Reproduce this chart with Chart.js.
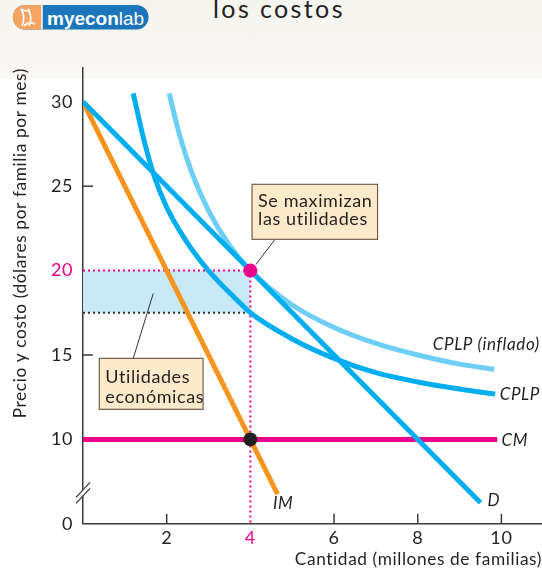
<!DOCTYPE html>
<html><head><meta charset="utf-8">
<script src="https://cdn.jsdelivr.net/npm/chart.js@4"></script>
<style>
html,body{margin:0;padding:0;background:#fff;}
#wrap{position:relative;width:542px;height:568px;overflow:hidden;background:linear-gradient(#f5f4ef 0px,#f9f8f4 78px,#ffffff 79px);}
#c{position:absolute;left:0;top:0;}
#title{position:absolute;left:213px;top:-7px;font:25px Lato,"Open Sans",sans-serif;letter-spacing:2.4px;color:#231f20;white-space:nowrap;}
#logo{position:absolute;left:0;top:0;}
</style></head>
<body><div id="wrap">
<svg id="logo" width="160" height="34" xmlns="http://www.w3.org/2000/svg">
 <rect x="13" y="5" width="135.5" height="24.5" rx="12" fill="#1b75bb"/>
 <path d="M25 5 H42 V29.5 H25 A12.25 12.25 0 0 1 25 5 Z" fill="#f6a461"/>
 <line x1="42" y1="5" x2="42" y2="29.5" stroke="#ffffff" stroke-width="1.5"/>
 <path d="M21 9 Q26 17 22 26 M21 9 Q25 12 30 10 M28 9 Q33 17 29 26 M24 26 Q28 21 35 24" stroke="#ffffff" stroke-width="1.6" fill="none"/>
 <text x="47" y="24.5" font-family="'Liberation Sans',Arial,sans-serif" font-size="19" font-weight="bold" fill="#ffffff">myecon<tspan font-weight="normal">lab</tspan></text>
</svg>
<div id="title">los costos</div>
<canvas id="c" width="542" height="568"></canvas>
</div>
<script>
// ---- data ----
const dQ = [0, 9.5];
const dP = [30, 6.25];
const imQ = [0, 4.65];
const imP = [30, 6.75];
const cmQ = [0, 9.9];
const cmP = [10, 10];
const cplpQ = [1.2, 1.45, 1.7, 2.0, 2.4, 2.8, 3.2, 3.6, 4.0, 5.0, 6.0, 7.0, 8.0, 9.0, 9.85];
const cplpP = [30.5, 27.8, 25.6, 23.75, 22.0, 20.6, 19.45, 18.45, 17.5, 15.95, 14.8, 13.95, 13.4, 12.98, 12.68];
const infQ = [2.06, 2.3, 2.6, 3.0, 3.5, 4.0, 5.0, 6.0, 7.0, 8.0, 9.0, 9.83];
const infP = [30.5, 28.1, 25.8, 23.55, 21.5, 20.0, 17.96, 16.63, 15.69, 15.0, 14.46, 14.15];
const optQ = [4];
const optP = [20];
const mcQ = [4];
const mcP = [10];
const atcAtOpt = 17.5;
const profitQ = [0, 4];
const xTickValues = [2, 4, 6, 8, 10];
const yTickValues = [5, 10, 15, 20, 25, 30];
const yTickLabels = ['0', '10', '15', '20', '25', '30'];
const xTickMarks = [2, 6, 8, 10];
const yTickMarks = [10, 15, 25];
const curveLabels = [
  {text: 'CPLP (inflado)', q: 8.36, p: 15.6},
  {text: 'CPLP', q: 9.96, p: 12.68},
  {text: 'CM', q: 10.0, p: 9.96},
  {text: 'D', q: 9.67, p: 6.4},
  {text: 'IM', q: 4.54, p: 6.22}
];
const boxes = [
  {lines: ['Se maximizan', 'las utilidades'], q0: 4.04, p0: 25.11, q1: 7.04, p1: 21.85, lq0: 4.59, lp0: 21.85, lq1: 4.13, lp1: 20.35},
  {lines: ['Utilidades', 'económicas'], q0: 0.39, p0: 14.8, q1: 2.87, p1: 11.78, lq0: 1.2, lp0: 14.8, lq1: 1.68, lp1: 18.65}
];

// ---- styles ----
const FONT = 'Lato, "Open Sans", sans-serif';
const magenta = '#ec008c', cyan = '#00aeef', lightCyan = '#6dcff6', orange = '#f7941d';
const ink = '#231f20', axisCol = '#3a3a3a';
const pts = (xs, ys) => xs.map((x, i) => ({x: x, y: ys[i]}));

const decor = {
  id: 'decor',
  beforeDraw(chart) { chart.ctx.letterSpacing = '0.6px'; },
  beforeDatasetsDraw(chart) {
    const {ctx, scales: {x, y}, chartArea: a} = chart;
    ctx.save();
    ctx.strokeStyle = axisCol; ctx.lineWidth = 1.5;
    xTickMarks.forEach(v => { const px = x.getPixelForValue(v); ctx.beginPath(); ctx.moveTo(px, a.bottom); ctx.lineTo(px, a.bottom - 10); ctx.stroke(); });
    yTickMarks.forEach(v => { const py = y.getPixelForValue(v); ctx.beginPath(); ctx.moveTo(a.left, py); ctx.lineTo(a.left + 10, py); ctx.stroke(); });
    ctx.restore();
  },
  afterDatasetsDraw(chart) {
    const {ctx, scales: {x, y}, chartArea: a} = chart;
    ctx.save();
    ctx.letterSpacing = '0.6px';
    // axis break
    const cy = y.getPixelForValue(6.8), cx = a.left;
    ctx.fillStyle = '#ffffff';
    ctx.beginPath();
    ctx.moveTo(cx - 6, cy + 3); ctx.lineTo(cx + 6, cy - 10); ctx.lineTo(cx + 6, cy - 4); ctx.lineTo(cx - 6, cy + 9); ctx.closePath(); ctx.fill();
    ctx.strokeStyle = axisCol; ctx.lineWidth = 1.3;
    ctx.beginPath(); ctx.moveTo(cx - 7, cy + 4); ctx.lineTo(cx + 7, cy - 11); ctx.stroke();
    ctx.beginPath(); ctx.moveTo(cx - 7, cy + 10); ctx.lineTo(cx + 7, cy - 5); ctx.stroke();
    // curve labels
    ctx.fillStyle = ink;
    ctx.font = 'italic 17px ' + FONT;
    ctx.textAlign = 'left'; ctx.textBaseline = 'middle';
    curveLabels.forEach(l => ctx.fillText(l.text, x.getPixelForValue(l.q), y.getPixelForValue(l.p)));
    // annotation boxes
    boxes.forEach((b, i) => {
      ctx.strokeStyle = '#333333'; ctx.lineWidth = 1;
      ctx.beginPath(); ctx.moveTo(x.getPixelForValue(b.lq0), y.getPixelForValue(b.lp0)); ctx.lineTo(x.getPixelForValue(b.lq1), y.getPixelForValue(b.lp1)); ctx.stroke();
      const x0 = x.getPixelForValue(b.q0), y0 = y.getPixelForValue(b.p0), x1 = x.getPixelForValue(b.q1), y1 = y.getPixelForValue(b.p1);
      ctx.fillStyle = '#fdeacb'; ctx.fillRect(x0, y0, x1 - x0, y1 - y0);
      ctx.strokeStyle = '#6e604e'; ctx.lineWidth = 1.2; ctx.strokeRect(x0, y0, x1 - x0, y1 - y0);
      ctx.fillStyle = ink; ctx.font = '18px ' + FONT; ctx.textBaseline = 'alphabetic';
      const lh = i === 0 ? 17.7 : 20;
      const base = i === 0 ? 23 : 25;
      b.lines.forEach((t, k) => ctx.fillText(t, x0 + 6, y0 + base + k * lh));
    });
    ctx.restore();
  }
};

const zeroPad = s => { s.paddingLeft = 0; s.paddingRight = 0; s.paddingTop = 0; s.paddingBottom = 0; };

new Chart(document.getElementById('c'), {
  type: 'line',
  data: {
    datasets: [
      {data: pts(optQ, optP), showLine: false, pointRadius: 7, pointBackgroundColor: magenta, pointBorderWidth: 0, order: 0},
      {data: pts(mcQ, mcP), showLine: false, pointRadius: 7, pointBackgroundColor: '#231f20', pointBorderWidth: 0, order: 0},
      {data: pts(dQ, dP), borderColor: cyan, borderWidth: 5, pointRadius: 0, order: 1},
      {data: pts(cplpQ, cplpP), borderColor: cyan, borderWidth: 5, pointRadius: 0, cubicInterpolationMode: 'monotone', order: 2},
      {data: pts(infQ, infP), borderColor: lightCyan, borderWidth: 5, pointRadius: 0, cubicInterpolationMode: 'monotone', order: 3},
      {data: pts(imQ, imP), borderColor: orange, borderWidth: 5, pointRadius: 0, order: 4},
      {data: pts(cmQ, cmP), borderColor: magenta, borderWidth: 5, pointRadius: 0, order: 5},
      {data: pts([optQ[0], optQ[0]], [optP[0], yTickValues[0]]), borderColor: magenta, borderWidth: 2, borderDash: [2, 3], pointRadius: 0, order: 6},
      {data: pts(profitQ, [optP[0], optP[0]]), borderColor: magenta, borderWidth: 2, borderDash: [2, 3], pointRadius: 0, order: 7},
      {data: pts(profitQ, [atcAtOpt, atcAtOpt]), borderColor: '#333333', borderWidth: 2, borderDash: [2, 3], pointRadius: 0, order: 8},
      {data: pts(profitQ, [optP[0], optP[0]]), borderWidth: 0, borderColor: 'rgba(0,0,0,0)', backgroundColor: '#c8e9f8', fill: {value: atcAtOpt}, pointRadius: 0, order: 10}
    ]
  },
  options: {
    responsive: false,
    animation: false,
    devicePixelRatio: 1,
    layout: {autoPadding: false, padding: {top: 68, left: 0, right: 0, bottom: 0}},
    plugins: {legend: {display: false}, tooltip: {enabled: false}},
    scales: {
      x: {
        type: 'linear', min: 0, max: 10.97,
        grid: {display: false, drawTicks: false},
        border: {color: axisCol, width: 1.5},
        afterBuildTicks: s => { s.ticks = xTickValues.map(v => ({value: v})); },
        afterFit: s => { s.height = 44.2; zeroPad(s); },
        ticks: {padding: 4, font: {family: FONT, size: 18}, color: c => c.tick && c.tick.value === 4 ? magenta : ink},
        title: {display: true, text: 'Cantidad (millones de familias)', align: 'end', color: ink, font: {family: FONT, size: 17.3}, padding: {top: 0, bottom: -2}}
      },
      y: {
        type: 'linear', min: 5, max: 32,
        grid: {display: false, drawTicks: false},
        border: {color: axisCol, width: 1.5},
        afterBuildTicks: s => { s.ticks = yTickValues.map(v => ({value: v})); },
        afterFit: s => { s.width = 83; zeroPad(s); },
        ticks: {padding: 10, font: {family: FONT, size: 18}, color: c => c.tick && c.tick.value === 20 ? magenta : ink,
          callback: v => yTickLabels[yTickValues.indexOf(v)]},
        title: {display: true, text: 'Precio y costo (dólares por familia por mes)', align: 'end', color: ink, font: {family: FONT, size: 17.3}, padding: {top: 10, bottom: 0}}
      }
    }
  },
  plugins: [decor]
});
</script>
</body></html>
